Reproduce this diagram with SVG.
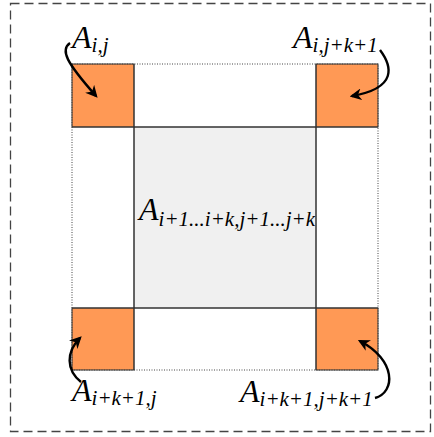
<svg xmlns="http://www.w3.org/2000/svg" width="434" height="437" viewBox="0 0 434 437">
<defs>
<style>
.frame{fill:none;stroke:#444;stroke-width:1.3;stroke-dasharray:9 5}
.dot{fill:none;stroke:#444;stroke-width:1;stroke-dasharray:1 1.5}
.cell{fill:#FF9955;stroke:#333;stroke-width:1}
.mid{fill:#F0F0F0;stroke:#333;stroke-width:1}
.ln{stroke:#333;stroke-width:1;fill:none}
.lbl{font-style:italic;font-size:32px;fill:#000}
.sub{font-size:21px}
.arr{fill:none;stroke:#000;stroke-width:2.4;marker-end:url(#ah)}
</style>
<marker id="ah" viewBox="0 0 10 10" refX="8" refY="5" markerWidth="5" markerHeight="5" orient="auto" markerUnits="strokeWidth">
<path d="M0,0 L10,5 L0,10 L3,5 Z" fill="#000"/>
</marker>
</defs>
<rect class="frame" x="10.5" y="3.5" width="420" height="428"/>
<g id="center">
<rect class="mid" x="134" y="127" width="182" height="181"/>
<text class="lbl" font-family="Liberation Serif, Times New Roman, serif" x="139" y="220">A<tspan class="sub" dy="6">i+1...i+k,j+1...j+k</tspan></text>
</g>
<g id="cell-tl">
<rect class="cell" x="72" y="64" width="62" height="63"/>
<text class="lbl" font-family="Liberation Serif, Times New Roman, serif" x="72" y="48">A<tspan class="sub" dy="4">i,j</tspan></text>
</g>
<g id="cell-tr">
<rect class="cell" x="316" y="64" width="62" height="63"/>
<text class="lbl" font-family="Liberation Serif, Times New Roman, serif" x="293" y="48">A<tspan class="sub" dy="4">i,j+k+1</tspan></text>
</g>
<g id="cell-bl">
<rect class="cell" x="72" y="308" width="62" height="62"/>
<text class="lbl" font-family="Liberation Serif, Times New Roman, serif" x="72" y="401">A<tspan class="sub" dy="4">i+k+1,j</tspan></text>
</g>
<g id="cell-br">
<rect class="cell" x="316" y="308" width="62" height="62"/>
<text class="lbl" font-family="Liberation Serif, Times New Roman, serif" x="240" y="402">A<tspan class="sub" dy="4">i+k+1,j+k+1</tspan></text>
</g>
<g id="grid">
<rect class="dot" x="72" y="64" width="306" height="306"/>
<line class="ln" x1="134" y1="64" x2="134" y2="370"/>
<line class="ln" x1="316" y1="64" x2="316" y2="370"/>
<line class="ln" x1="72" y1="127" x2="378" y2="127"/>
<line class="ln" x1="72" y1="308" x2="378" y2="308"/>
</g>
<g id="connectors">
<path class="arr" d="M70,43 C60,50 66,62 96,96"/>
<path class="arr" d="M380,50 C392,66 398,88 352,96"/>
<path class="arr" d="M81,382 C66,370 66,352 80,338"/>
<path class="arr" d="M375,398 C396,392 396,360 360,341"/>
</g>
</svg>
